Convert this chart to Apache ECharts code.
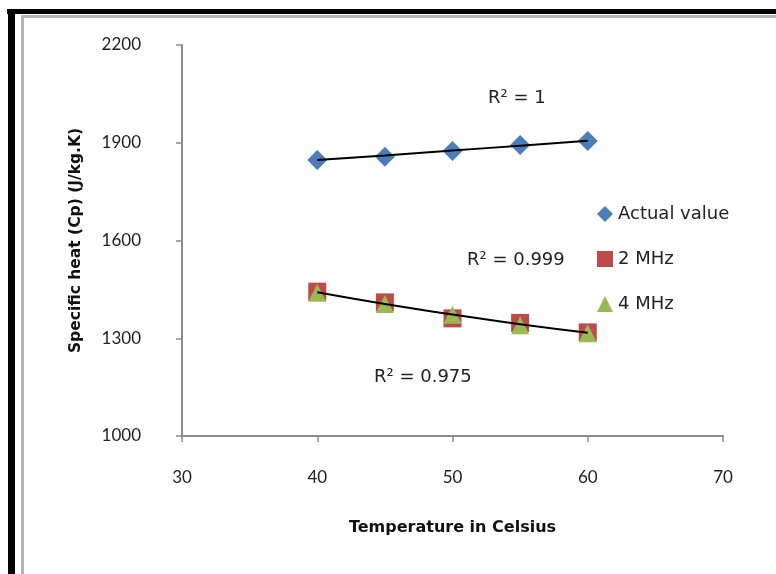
<!DOCTYPE html>
<html>
<head>
<meta charset="utf-8">
<script src="https://cdn.jsdelivr.net/npm/echarts@6/dist/echarts.min.js"></script>
<style>
  html, body { margin: 0; padding: 0; background: #fff; }
  #chart { width: 776px; height: 574px; }
</style>
</head>
<body>
<div id="chart"></div>
<script>
// data
var temps = [40, 45, 50, 55, 60];
var actualValue = [1847, 1857, 1875, 1893, 1905];
var mhz2 = [1443, 1410, 1361, 1347, 1318];
var mhz4 = [1440, 1405, 1372, 1340, 1315];
// trendlines (as drawn in the original)
var trendActual = [1847, 1861, 1876, 1891, 1906];
var trendLow = [1441, 1405, 1373, 1343, 1317];
var xTicks = [30, 40, 50, 60, 70];
var yTicks = [1000, 1300, 1600, 1900, 2200];

function pairs(ys) {
  var out = [];
  for (var i = 0; i < temps.length; i++) {
    out.push([temps[i], ys[i]]);
  }
  return out;
}

var tickFont = 'Lato, sans-serif';
var font = '"DejaVu Sans", sans-serif';
var myChart = echarts.init(document.getElementById('chart'));

var option = {
  animation: false,
  textStyle: { fontFamily: font },
  grid: { left: 182, right: 53, top: 45, bottom: 138 },
  xAxis: {
    type: 'value',
    min: xTicks[0],
    max: xTicks[xTicks.length - 1],
    interval: 10,
    name: 'Temperature in Celsius',
    nameLocation: 'middle',
    nameGap: 84,
    nameTextStyle: { fontSize: 16, fontWeight: 'bold', color: '#111', fontFamily: font },
    axisLine: { lineStyle: { color: '#8c8c8c', width: 2 } },
    axisTick: { length: 6, lineStyle: { color: '#8c8c8c', width: 1.5 } },
    axisLabel: { fontSize: 17, color: '#222', margin: 33, fontFamily: tickFont },
    splitLine: { show: false }
  },
  yAxis: {
    type: 'value',
    min: yTicks[0],
    max: yTicks[yTicks.length - 1],
    interval: 300,
    name: 'Specific heat (Cp) (J/kg.K)',
    nameLocation: 'middle',
    nameGap: 98,
    nameTextStyle: { fontSize: 15.5, fontWeight: 'bold', color: '#111', fontFamily: font },
    axisLine: { show: true, lineStyle: { color: '#8c8c8c', width: 2 } },
    axisTick: { show: true, length: 6, lineStyle: { color: '#8c8c8c', width: 1.5 } },
    axisLabel: {
      fontSize: 17, color: '#222', margin: 41, fontFamily: tickFont,
      formatter: function (v) { return String(v); }
    },
    splitLine: { show: false }
  },
  legend: {
    orient: 'vertical',
    left: 592,
    top: 200,
    itemGap: 27,
    itemWidth: 16,
    itemHeight: 16,
    textStyle: { fontSize: 18, color: '#222', fontFamily: font },
    data: [
      { name: 'Actual value', icon: 'diamond' },
      { name: '2 MHz', icon: 'rect' },
      { name: '4 MHz', icon: 'triangle' }
    ]
  },
  series: [
    {
      name: 'Actual value',
      type: 'scatter',
      symbol: 'diamond',
      symbolSize: 20,
      itemStyle: { color: '#4A7EBB', opacity: 1 },
      data: pairs(actualValue)
    },
    {
      name: '2 MHz',
      type: 'scatter',
      symbol: 'rect',
      symbolSize: 18,
      itemStyle: { color: '#BE4B48', opacity: 1 },
      data: pairs(mhz2)
    },
    {
      name: '4 MHz',
      type: 'scatter',
      symbol: 'triangle',
      symbolSize: 18,
      itemStyle: { color: '#98B954', opacity: 1 },
      data: pairs(mhz4)
    },
    {
      name: 'trend actual',
      type: 'line',
      showSymbol: false,
      smooth: true,
      lineStyle: { color: '#000', width: 2 },
      data: pairs(trendActual),
      z: 3
    },
    {
      name: 'trend low',
      type: 'line',
      showSymbol: false,
      smooth: true,
      lineStyle: { color: '#000', width: 2 },
      data: pairs(trendLow),
      z: 3
    }
  ],
  graphic: [
    // outer frame
    { type: 'rect', shape: { x: 7, y: 9, width: 769, height: 5 }, style: { fill: '#000' } },
    { type: 'rect', shape: { x: 8, y: 9, width: 7, height: 565 }, style: { fill: '#000' } },
    { type: 'rect', shape: { x: 21, y: 15, width: 755, height: 3 }, style: { fill: '#b4b4b4' } },
    { type: 'rect', shape: { x: 21, y: 15, width: 3, height: 559 }, style: { fill: '#b4b4b4' } },
    // R² annotations
    { type: 'text', left: 488, top: 89, style: { text: 'R² = 1', fontSize: 18, fill: '#222', fontFamily: font } },
    { type: 'text', left: 467, top: 251, style: { text: 'R² = 0.999', fontSize: 18, fill: '#222', fontFamily: font } },
    { type: 'text', left: 374, top: 368, style: { text: 'R² = 0.975', fontSize: 18, fill: '#222', fontFamily: font } }
  ]
};

myChart.setOption(option);
</script>
</body>
</html>
